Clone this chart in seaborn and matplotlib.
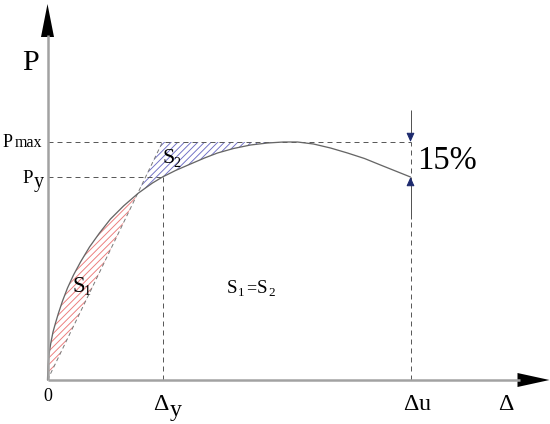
import numpy as np
import matplotlib
matplotlib.use("Agg")
import matplotlib.pyplot as plt
import seaborn as sns
from matplotlib.patches import Polygon

# ---- data (schematic load-displacement curve, arbitrary units) ----
disp = [0, 0.5, 1, 2, 3.5, 5.5, 8, 11, 15, 20, 26, 33, 42, 52, 63, 76, 91,
        105, 115, 128, 143, 157, 170, 186, 203, 220, 236, 250, 266, 283,
        300, 317, 333, 348, 363]
load = [0, 14, 20, 29, 38, 48, 57, 67, 79, 92, 105, 118, 133, 147, 161, 174,
        187, 197, 203, 209.5, 216, 222, 227, 231.5, 235, 237, 238, 238, 236,
        232, 227, 221.5, 215, 209, 203]
P_max = 238
P_y = 203
d_y = 115
d_u = 363
drop_label = "15%"
y_labels = ["P", "max", "y"]
x_labels = ["0", "\u0394", "y", "u"]

sns.set_theme(style="white")
plt.rcParams["font.family"] = ["Liberation Serif", "DejaVu Serif"]
plt.rcParams["lines.scale_dashes"] = False
plt.rcParams["hatch.linewidth"] = 0.55

DPI = 120
fig = plt.figure(figsize=(550 / DPI, 424 / DPI), dpi=DPI)
ax = fig.add_axes([0, 0, 1, 1])
X0, Y0 = 47.5, 380  # pixel position of origin
ax.set_xlim(-X0, 550 - X0)
ax.set_ylim(Y0 - 424, Y0)
ax.axis("off")


def pt(px):
    return px * 72 / DPI


red = "#ec7a7a"
blue = "#6d6dc4"
navy = "#1d2a6e"
grey_curve = "#666666"
grey_dash = "#5a5a5a"
grey_axis = "#a2a2a2"
dash = (0, (pt(5), pt(4)))

# ---- hatched areas S1 and S2 ----
peak = disp[int(np.argmax(load))]
xs = np.linspace(0, peak, 2000)
cur = np.interp(xs, disp, load)
sec = xs * P_max / d_y
ax.fill_between(xs, sec, cur, where=cur >= sec, interpolate=True,
                facecolor="none", edgecolor=red, hatch="//////", linewidth=0)
upper = np.minimum(sec, P_max)
ax.fill_between(xs, cur, upper, where=upper >= cur, interpolate=True,
                facecolor="none", edgecolor=blue, hatch="//////", linewidth=0)

# ---- reference lines ----
ax.hlines(P_max, 0, d_u, color=grey_dash, lw=pt(1), linestyle=dash)
ax.hlines(P_y, 0, d_y, color=grey_dash, lw=pt(1), linestyle=dash)
ax.vlines(d_y, 0, P_y, color=grey_dash, lw=pt(1), linestyle=dash)
ax.vlines(d_u, 0, P_max, color=grey_dash, lw=pt(1), linestyle=dash)

# secant line
sns.lineplot(x=[0, d_y], y=[0, P_max], ax=ax, color="#7a7a7a", lw=pt(1),
             linestyle=(0, (pt(4), pt(3))), estimator=None, sort=False)

# curve
sns.lineplot(x=disp, y=load, ax=ax, color=grey_curve, lw=pt(1.3),
             estimator=None, sort=False)

# ---- 15% arrows ----
ax.vlines(d_u, P_max + 4, P_max + 32, color="#555555", lw=pt(1))
ax.vlines(d_u, load[-1] - 42, load[-1] - 4, color="#555555", lw=pt(1))
aprops = dict(arrowstyle="-|>,head_length=0.45,head_width=0.2", color=navy,
              lw=pt(1), shrinkA=0, shrinkB=0, mutation_scale=10)
ax.annotate("", xy=(d_u, P_max), xytext=(d_u, P_max + 8), arrowprops=aprops)
ax.annotate("", xy=(d_u, load[-1]), xytext=(d_u, load[-1] - 8), arrowprops=aprops)

# ---- axes with arrows ----
ax.vlines(0, 0, 345, color=grey_axis, lw=pt(2.5))
ax.hlines(0, 0, 472, color=grey_axis, lw=pt(2.5))
ax.add_patch(Polygon([[0, 376], [-6.5, 343], [6.5, 343]], closed=True,
                     color="black", lw=0))
ax.add_patch(Polygon([[502, 0], [470, 7], [470, -7]], closed=True,
                     color="black", lw=0))


# ---- text ----
def put(px, py, s, em_px, **kw):
    ax.text(px - X0, Y0 - py, s, fontsize=pt(em_px), ha="left",
            va="baseline", color="black", **kw)


put(22, 70, y_labels[0], 30)
put(3, 147, y_labels[0], 18)
put(15, 147, y_labels[1], 16)
put(22, 183, y_labels[0], 19)
put(34, 187, y_labels[2], 20)

put(43, 401, x_labels[0], 18)
put(153, 410, x_labels[1], 24)
put(170, 416, x_labels[2], 24)
put(403, 410, x_labels[1], 24)
put(419, 410, x_labels[3], 24)
put(498, 410, x_labels[1], 24)

put(417, 169, drop_label, 32.5)

put(72, 292, "S", 23)
put(84, 295, "1", 14)
put(162, 163, "S", 22)
put(173, 167, "2", 14)

put(227, 293, "S", 19)
put(238, 296, "1", 13)
put(246, 293, "=", 18)
put(257, 293, "S", 19)
put(268, 296, "2", 13)

fig.savefig("out.png", dpi=DPI)
